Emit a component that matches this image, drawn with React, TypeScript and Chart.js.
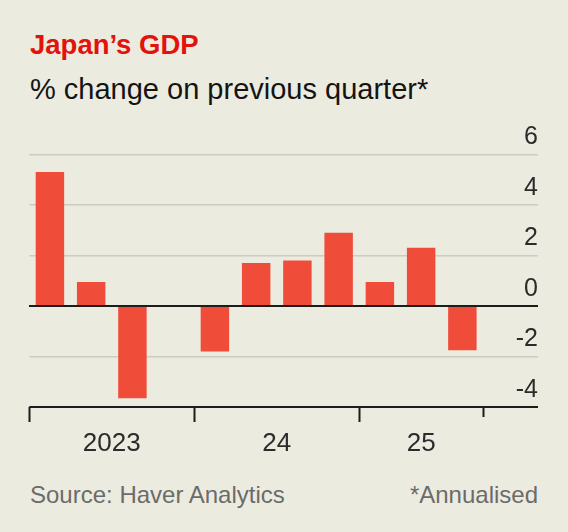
import React, { useEffect, useRef } from 'react';
import { Chart, registerables } from 'chart.js';

Chart.register(...registerables);

// ---- data ----
const quarters = [
  '2023 Q1', '2023 Q2', '2023 Q3', '2023 Q4',
  '2024 Q1', '2024 Q2', '2024 Q3', '2024 Q4',
  '2025 Q1', '2025 Q2', '2025 Q3',
];
const gdpChange = [5.3, 0.95, -3.65, 0, -1.8, 1.7, 1.8, 2.9, 0.95, 2.3, -1.75];
const yearTickLabels = ['2023', '24', '25'];
const yAxisMin = -4;
const yAxisMax = 6;
const yAxisStep = 2;

// derived from the categories
const yearOf = (q: string) => q.slice(0, 4);
const years = Array.from(new Set(quarters.map(yearOf)));
const yearCentres = years.map((y) => {
  const idx = quarters.map((q, i) => (yearOf(q) === y ? i : -1)).filter((i) => i >= 0);
  return (idx[0] + idx[idx.length - 1]) / 2;
});
const yearStarts = quarters.map((q, i) => i === 0 || yearOf(q) !== yearOf(quarters[i - 1]));

// ---- styles ----
const FONT = '"Liberation Sans", Arial, sans-serif';
const BG = '#ECEBE0';
const BAR = '#EF4C3A';
const DARK = '#1c1c1c';
const GRID = '#CDCCC1';
const TICK_TEXT = '#2b2b2b';

export default function App() {
  const canvasRef = useRef<HTMLCanvasElement | null>(null);

  useEffect(() => {
    const canvas = canvasRef.current;
    if (!canvas) return;
    const isDark = (v: number) => v === 0 || v === yAxisMin;
    const chart = new Chart(canvas, {
      type: 'bar',
      data: {
        labels: quarters,
        datasets: [
          {
            data: gdpChange,
            backgroundColor: BAR,
            borderWidth: 0,
            categoryPercentage: 1,
            barPercentage: 0.69,
            xAxisID: 'x',
            yAxisID: 'y',
          },
        ],
      },
      options: {
        animation: false,
        responsive: true,
        maintainAspectRatio: false,
        layout: { padding: { left: 29.3, right: 30, top: 44.3, bottom: 4.8 } },
        plugins: {
          legend: { display: false },
          tooltip: { enabled: false },
          title: { display: false },
        },
        scales: {
          x: {
            type: 'category',
            position: 'bottom',
            offset: true,
            grid: {
              offset: true,
              drawOnChartArea: false,
              drawTicks: true,
              tickLength: 15,
              tickWidth: 2,
              tickColor: (ctx: any) =>
                ctx.type !== 'tick' || yearStarts[ctx.index] ? DARK : 'rgba(0,0,0,0)',
              tickBorderDash: (ctx: any) => (ctx.type !== 'tick' ? [10, 40] : []),
            },
            border: { display: false },
            ticks: { display: false },
          },
          x2: {
            type: 'linear',
            position: 'bottom',
            offset: false,
            min: -0.5,
            max: quarters.length - 0.5,
            afterBuildTicks: (s: any) => {
              s.ticks = yearCentres.map((v) => ({ value: v }));
            },
            grid: { display: false, drawTicks: false, offset: false },
            border: { display: false },
            ticks: {
              autoSkip: false,
              maxRotation: 0,
              padding: 6,
              color: TICK_TEXT,
              font: { family: FONT, size: 26 },
              callback: (_v: any, i: number) => yearTickLabels[i],
            },
          },
          y: {
            type: 'linear',
            position: 'right',
            min: yAxisMin,
            max: yAxisMax,
            ticks: {
              stepSize: yAxisStep,
              padding: 0,
              crossAlign: 'far',
              labelOffset: -17,
              color: TICK_TEXT,
              font: { family: FONT, size: 25 },
            },
            grid: {
              drawTicks: true,
              tickLength: 55,
              color: (ctx: any) => (ctx.tick && isDark(ctx.tick.value) ? DARK : GRID),
              lineWidth: (ctx: any) => (ctx.tick && isDark(ctx.tick.value) ? 2 : 1.5),
              tickColor: (ctx: any) => (ctx.tick && isDark(ctx.tick.value) ? DARK : GRID),
              tickWidth: (ctx: any) => (ctx.tick && isDark(ctx.tick.value) ? 2 : 1.5),
            },
            border: { display: false },
            afterFit: (s: any) => {
              s.width = 55;
            },
          },
          y0: {
            type: 'linear',
            position: 'left',
            min: yAxisMin,
            max: yAxisMax,
            afterBuildTicks: (s: any) => {
              s.ticks = [{ value: 0 }];
            },
            grid: { z: 1, drawTicks: false, color: DARK, lineWidth: 2 },
            ticks: { display: false },
            border: { display: false },
            afterFit: (s: any) => {
              s.width = 0;
            },
          },
        },
      } as any,
    });
    return () => chart.destroy();
  }, []);

  const text = (extra: React.CSSProperties): React.CSSProperties => ({
    position: 'absolute',
    margin: 0,
    lineHeight: 1,
    whiteSpace: 'nowrap',
    fontFamily: FONT,
    ...extra,
  });

  return (
    <div
      style={{
        position: 'fixed',
        left: 0,
        top: 0,
        width: 568,
        height: 532,
        background: BG,
        overflow: 'hidden',
      }}
    >
      <div style={text({ left: 30, top: 30.5, fontSize: 27.5, fontWeight: 700, color: '#E3120B' })}>
        Japan’s GDP
      </div>
      <div style={text({ left: 30, top: 74.5, fontSize: 29, color: '#141414' })}>
        % change on previous quarter*
      </div>
      <div style={{ position: 'absolute', left: 0, top: 110, width: 568, height: 360 }}>
        <canvas ref={canvasRef} />
      </div>
      <div style={text({ left: 30, top: 482.7, fontSize: 24, color: '#6b6b6b' })}>
        Source: Haver Analytics
      </div>
      <div style={text({ right: 30, top: 482.7, fontSize: 24, color: '#6b6b6b' })}>
        *Annualised
      </div>
    </div>
  );
}
